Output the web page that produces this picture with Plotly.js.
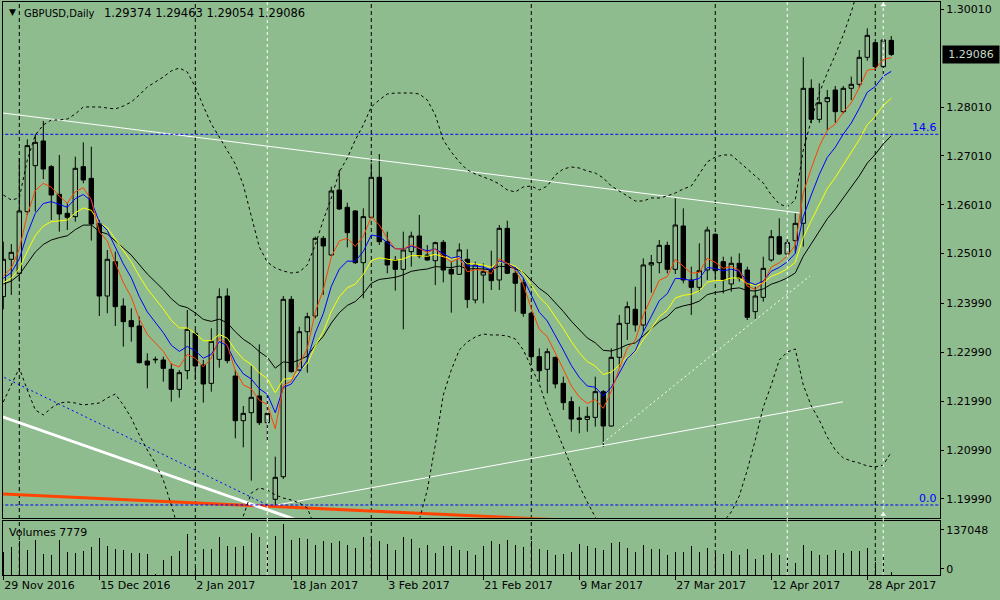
<!DOCTYPE html>
<html>
<head>
<meta charset="utf-8">
<script src="https://cdn.plot.ly/plotly-3.0.1.min.js"></script>
<style>
html,body{margin:0;padding:0;background:#8FBC8F;}
#chart{width:1000px;height:600px;}
</style>
</head>
<body>
<div id="chart"></div>
<script>
// ---------- DATA (GBPUSD Daily, 29 Nov 2016 - 3 May 2017) ----------
const symbolTitle = "GBPUSD,Daily";
const lastOHLC = "1.29374 1.29463 1.29054 1.29086";

const tickIdx = [0, 12, 24, 36, 48, 60, 72, 84, 96, 108];
const tickLabels = ["29 Nov 2016","15 Dec 2016","2 Jan 2017","18 Jan 2017","3 Feb 2017",
                    "21 Feb 2017","9 Mar 2017","27 Mar 2017","12 Apr 2017","28 Apr 2017"];

const priceTicks = [1.30010,1.28010,1.27010,1.26010,1.25010,1.23990,1.22990,1.21990,1.20990,1.19990];
const priceTickText = ["1.30010","1.28010","1.27010","1.26010","1.25010","1.23990","1.22990","1.21990","1.20990","1.19990"];

const opens = [
1.24130,1.24894,1.24607,1.25869,1.26810,1.27315,1.26790,1.26224,1.25835,1.25767,
1.26790,1.26551,1.25630,1.24143,1.24846,1.23939,1.23639,1.23530,1.22813,1.22850,
1.22834,1.22643,1.22233,1.22616,1.23380,1.22731,1.22356,1.22847,1.24143,1.22506,
1.21592,1.21756,1.22097,1.21551,1.19983,1.20446,1.24075,1.22629,1.23413,1.23734,
1.25323,1.24982,1.26312,1.25958,1.25883,1.24825,1.25753,1.26572,1.25255,1.24880,
1.24689,1.25051,1.25371,1.24982,1.24866,1.25242,1.24689,1.24587,1.24894,1.24062,
1.24573,1.24689,1.24471,1.25528,1.24607,1.24416,1.23789,1.22902,1.22643,1.22888,
1.22357,1.21981,1.21647,1.21619,1.21660,1.22186,1.21483,1.22888,1.23584,1.23871,
1.23550,1.24778,1.24826,1.25180,1.24689,1.25576,1.24471,1.24321,1.24675,1.25405,
1.24846,1.24389,1.24812,1.24675,1.23823,1.24116,1.24880,1.25357,1.25003,1.25276,
1.25630,1.28393,1.27758,1.28120,1.28359,1.27915,1.28393,1.28475,1.29027,1.29327,
1.28836,1.29374];
const highs = [
1.25255,1.25207,1.26960,1.27349,1.27452,1.27724,1.26824,1.27029,1.26040,1.26995,
1.27287,1.27199,1.25699,1.25085,1.25051,1.24096,1.23891,1.23721,1.22970,1.22902,
1.22902,1.22765,1.22629,1.23857,1.23448,1.22834,1.23482,1.24300,1.24300,1.22629,
1.21892,1.22711,1.23154,1.22152,1.20856,1.24143,1.24143,1.23516,1.23802,1.25358,
1.25371,1.26381,1.26722,1.26053,1.25903,1.25937,1.26858,1.27049,1.25460,1.24962,
1.25460,1.25460,1.25801,1.25187,1.25255,1.25289,1.24846,1.25221,1.25098,1.24846,
1.24812,1.25071,1.25596,1.25685,1.24730,1.24505,1.23823,1.23072,1.23072,1.22902,
1.22493,1.22083,1.21879,1.21879,1.22493,1.22220,1.23072,1.23755,1.24027,1.24334,
1.24914,1.24982,1.25289,1.25255,1.26142,1.25937,1.24744,1.25221,1.25562,1.25426,
1.24948,1.24948,1.25016,1.24744,1.24334,1.24948,1.25494,1.25733,1.25303,1.25835,
1.29027,1.28577,1.28495,1.28359,1.28441,1.28441,1.28632,1.29177,1.29621,1.29340,
1.29416,1.29463];
const lows = [
1.23870,1.24164,1.24437,1.25801,1.25869,1.26537,1.25699,1.25460,1.25494,1.25664,
1.26449,1.25276,1.23734,1.23789,1.23530,1.23107,1.23209,1.22765,1.22254,1.22765,
1.22390,1.21981,1.22063,1.22438,1.22424,1.21961,1.22186,1.22677,1.22765,1.21231,
1.21047,1.20365,1.21504,1.21183,1.19867,1.20400,1.22575,1.22595,1.22575,1.23686,
1.24164,1.24962,1.25903,1.25139,1.24800,1.24096,1.25733,1.25187,1.24607,1.24253,
1.23461,1.24744,1.24914,1.24866,1.24368,1.24423,1.23802,1.24573,1.23900,1.23993,
1.23993,1.24266,1.24266,1.24593,1.23823,1.23720,1.22800,1.22390,1.22152,1.22254,
1.21811,1.21367,1.21333,1.21367,1.21470,1.21060,1.21470,1.22700,1.23243,1.23414,
1.23414,1.24212,1.24607,1.24607,1.24593,1.24403,1.23755,1.24232,1.24471,1.24505,
1.24198,1.24232,1.24437,1.23652,1.23666,1.24027,1.24846,1.24982,1.24948,1.25016,
1.25153,1.27677,1.27690,1.27540,1.27690,1.27881,1.28154,1.28413,1.28959,1.28754,
1.28632,1.29054];
const closes = [
1.24894,1.25037,1.25883,1.27220,1.27288,1.26742,1.26210,1.25821,1.25753,1.26756,
1.26517,1.25617,1.24143,1.24894,1.23925,1.23618,1.23516,1.22779,1.22731,1.22840,
1.22663,1.22233,1.22575,1.23461,1.22711,1.22343,1.23216,1.24130,1.22820,1.21592,
1.21742,1.22070,1.21551,1.21742,1.20433,1.24075,1.22595,1.23413,1.23720,1.25323,
1.25167,1.26292,1.25924,1.25439,1.24825,1.25767,1.26572,1.25255,1.24778,1.24689,
1.25085,1.25371,1.24962,1.24880,1.25235,1.24675,1.24594,1.25085,1.24070,1.24778,
1.24641,1.24457,1.25528,1.24607,1.24403,1.23789,1.22902,1.22615,1.23004,1.22343,
1.21961,1.21626,1.21619,1.21681,1.22186,1.21483,1.22888,1.23584,1.23925,1.23550,
1.24778,1.24826,1.25180,1.24689,1.25596,1.24471,1.24321,1.24662,1.25494,1.24662,
1.24471,1.24812,1.24505,1.23707,1.24143,1.24709,1.25357,1.25003,1.25235,1.25630,
1.28393,1.27758,1.28099,1.28202,1.27915,1.28393,1.28475,1.29027,1.29477,1.28836,
1.29382,1.29086];

const volumes = [
62700,75240,91360,67180,94050,57320,53740,94050,61800,59120,
64490,75240,99420,77930,69860,67180,60010,59120,56430,2690,
40310,51050,64490,110170,20000,69860,69860,102110,77930,75240,
77930,112860,102110,83300,104800,137048,94050,99420,96740,80610,
91360,85990,91360,80610,72550,102110,94050,91360,83300,67180,
102110,96740,72550,80610,59120,77930,77930,67180,64490,53740,
77930,91360,83300,94050,80610,75240,91360,69860,67180,53740,
56430,61800,83300,77930,72550,67180,85990,88670,72550,61800,
80610,69860,69860,53740,61800,61800,77930,61800,72550,59120,
56430,64490,53740,69860,42990,53740,59120,53740,45680,32250,
80610,64490,53740,53740,67180,59120,64490,64490,72550,34000,
51050,7779];
const volMax = 137048;
const volTitle = "Volumes 7779";

// Bollinger-type envelope
const bandUpper = [
1.26210,1.26108,1.26149,1.26926,1.27438,1.27643,1.27745,1.27745,1.27765,1.27868,
1.28011,1.28011,1.28011,1.27990,1.27970,1.28031,1.28113,1.28256,1.28420,1.28522,
1.28625,1.28748,1.28809,1.28727,1.28420,1.28031,1.27663,1.27397,1.27131,1.26844,
1.26415,1.25801,1.25146,1.24839,1.24717,1.24655,1.24614,1.24635,1.24778,1.25187,
1.25699,1.26149,1.26681,1.26967,1.27336,1.27643,1.28011,1.28154,1.28277,1.28297,
1.28297,1.28297,1.28277,1.28154,1.27847,1.27336,1.27090,1.26886,1.26722,1.26640,
1.26579,1.26517,1.26435,1.26313,1.26272,1.26374,1.26394,1.26313,1.26394,1.26619,
1.26742,1.26783,1.26762,1.26701,1.26660,1.26558,1.26394,1.26292,1.26190,1.26087,
1.26087,1.26149,1.26149,1.26190,1.26251,1.26333,1.26394,1.26640,1.26886,1.26988,
1.27029,1.27029,1.26886,1.26762,1.26619,1.26456,1.26210,1.26026,1.25965,1.26108,
1.27131,1.27745,1.28297,1.28707,1.29075,1.29484,1.29955,1.30500,1.31200,1.31800,
1.32300,1.32700];
const bandLower = [
1.21975,1.22322,1.22670,1.22220,1.21811,1.21709,1.21852,1.21954,1.21975,1.21954,
1.21913,1.21934,1.21954,1.22056,1.22138,1.21913,1.21647,1.21299,1.20992,1.20726,
1.20378,1.19867,1.19300,1.19000,1.18800,1.18800,1.18900,1.19000,1.19200,1.19450,
1.19640,1.20113,1.20215,1.20174,1.20072,1.20010,1.19969,1.19908,1.19806,1.19400,
1.19000,1.18700,1.18500,1.18400,1.18400,1.18500,1.18600,1.18800,1.19000,1.19100,
1.19300,1.19500,1.19560,1.20174,1.21095,1.22118,1.22629,1.23039,1.23202,1.23305,
1.23366,1.23346,1.23346,1.23325,1.23264,1.23039,1.22691,1.22343,1.21852,1.21443,
1.21054,1.20624,1.20256,1.19928,1.19601,1.19300,1.19000,1.18800,1.18700,1.18650,
1.18650,1.18700,1.18750,1.18850,1.18950,1.19050,1.19150,1.19250,1.19350,1.19450,
1.19520,1.19724,1.20051,1.20583,1.21197,1.21872,1.22322,1.22834,1.22998,1.23059,
1.22322,1.21893,1.21606,1.21258,1.20992,1.20829,1.20767,1.20726,1.20665,1.20645,
1.20685,1.20951];

// EMA settings (period, colour, value at first bar)
const maPeriods = [21, 13, 8, 5];
const maColors  = ["#000000", "#FFFF00", "#0000FF", "#FF4000"];
const maSeeds   = [1.24389, 1.24416, 1.24505, 1.24553];

// Fibonacci levels
const fiboLevels = [1.27452, 1.19867];
const fiboLabels = ["14.6", "0.0"];
// Fibo anchor line (bar index, price)
const fiboLineX = [-1, 33];
const fiboLineY = [1.22565, 1.19867];

// Trend lines: [x0, y0, x1, y1] in bar index / price
const trendTop     = [-1, 1.27907, 99.6, 1.25842];
const trendThick   = [-1, 1.21723, 40, 1.19368];
const trendOrange  = [-1, 1.20100, 75, 1.19523];
const trendLowLine = [34.2, 1.19867, 104.96, 1.21977];
const trendChannel = [74.96, 1.21136, 100.84, 1.24554];

// Month separators and marker lines (bar index)
const monthStarts = [2, 24, 46, 66, 89, 109];
const whiteVLines = [33, 98, 110];
// small end marks of the last white line (bar index, price)
const markX = [110, 110];
const markY = [1.30098, 1.19673];

// ---------- BUILD ----------
const BG = "#8FBC8F";
const FONT = "DejaVu Sans";
const n = closes.length;
const idx = closes.map((_, i) => i);

function ema(vals, period, seed) {
  const a = 2 / (period + 1);
  const out = [];
  let v = seed;
  for (let i = 0; i < vals.length; i++) {
    if (i > 0) v = v + a * (vals[i] - v);
    out.push(v);
  }
  return out;
}

const traces = [];

traces.push({
  type: "candlestick", x: idx, open: opens, high: highs, low: lows, close: closes,
  xaxis: "x", yaxis: "y",
  increasing: {line: {color: "#000000", width: 1}, fillcolor: BG},
  decreasing: {line: {color: "#000000", width: 1}, fillcolor: "#000000"},
  whiskerwidth: 0, hoverinfo: "skip", showlegend: false
});

function seg(arr, color, width, dash) {
  return {type: "scatter", mode: "lines", x: [arr[0], arr[2]], y: [arr[1], arr[3]],
          xaxis: "x", yaxis: "y", line: {color: color, width: width, dash: dash || "solid"},
          hoverinfo: "skip", showlegend: false};
}
traces.push(seg(trendOrange, "#FF4500", 3));
traces.push(seg(trendThick, "#FFFFFF", 3));
traces.push(seg(trendTop, "#FFFFFF", 1));
traces.push(seg(trendLowLine, "#FFFFFF", 1));
traces.push(seg(trendChannel, "#FFFFFF", 1, "2px,3px"));
traces.push({type: "scatter", mode: "lines", x: fiboLineX, y: fiboLineY, xaxis: "x", yaxis: "y",
  line: {color: "#0000FF", width: 1, dash: "2px,3px"}, hoverinfo: "skip", showlegend: false});
fiboLevels.forEach(lv => {
  traces.push({type: "scatter", mode: "lines", x: [-1, 120], y: [lv, lv], xaxis: "x", yaxis: "y",
    line: {color: "#0000FF", width: 1, dash: "3px,2px"}, hoverinfo: "skip", showlegend: false});
});

traces.push({type: "scatter", mode: "lines", x: idx, y: bandUpper, xaxis: "x", yaxis: "y",
  line: {color: "#000000", width: 1, dash: "3px,3px"}, hoverinfo: "skip", showlegend: false});
traces.push({type: "scatter", mode: "lines", x: idx, y: bandLower, xaxis: "x", yaxis: "y",
  line: {color: "#000000", width: 1, dash: "3px,3px"}, hoverinfo: "skip", showlegend: false});

maPeriods.forEach((p, k) => {
  traces.push({type: "scatter", mode: "lines", x: idx, y: ema(closes, p, maSeeds[k]),
    xaxis: "x", yaxis: "y", line: {color: maColors[k], width: 1},
    hoverinfo: "skip", showlegend: false});
});

traces.push({type: "scatter", mode: "markers", x: markX, y: markY, xaxis: "x", yaxis: "y",
  marker: {symbol: "triangle-up", size: 5, color: "#FFFFFF", line: {width: 0}},
  cliponaxis: false, hoverinfo: "skip", showlegend: false});

traces.push({type: "bar", x: idx, y: volumes, xaxis: "x2", yaxis: "y2",
  width: 0.14, marker: {color: "#000000", line: {width: 0}},
  hoverinfo: "skip", showlegend: false});

const yMin = 1.19607, yMax = 1.30159;
const xMin = -0.0375, xMax = 117.09;
const volTop = volMax * 54.3 / 51;

const shapes = [];
monthStarts.forEach(m => shapes.push({type: "line", xref: "x", yref: "paper", x0: m, x1: m, y0: 0, y1: 1,
  line: {color: "#000000", width: 1, dash: "4px,3px"}, layer: "below"}));
whiteVLines.forEach(m => shapes.push({type: "line", xref: "x", yref: "paper", x0: m, x1: m, y0: 0, y1: 1,
  line: {color: "#FFFFFF", width: 1, dash: "3px,3px"}, layer: "above"}));

const annotations = [
  {xref: "paper", yref: "paper", x: (7 - 3) / 937, y: (575 - 12) / 573, xanchor: "left", yanchor: "middle",
   text: "▼", showarrow: false, font: {family: FONT, size: 9, color: "#000"}},
  {xref: "paper", yref: "paper", x: (21.7 - 3) / 937, y: (575 - 13) / 573, xanchor: "left", yanchor: "middle",
   text: symbolTitle, showarrow: false, font: {family: FONT, size: 10, color: "#000"}},
  {xref: "paper", yref: "paper", x: (101.7 - 3) / 937, y: (575 - 13) / 573, xanchor: "left", yanchor: "middle",
   text: lastOHLC, showarrow: false, font: {family: FONT, size: 11.5, color: "#000"}},
  {xref: "paper", yref: "paper", x: (7.3 - 3) / 937, y: (575 - 532) / 573, xanchor: "left", yanchor: "middle",
   text: volTitle, showarrow: false, font: {family: FONT, size: 11, color: "#000"}},
  {xref: "paper", yref: "y", x: (941.7 - 3) / 937, y: closes[n - 1], xanchor: "left", yanchor: "middle",
   text: closes[n - 1].toFixed(5), showarrow: false, bgcolor: "#000000", borderpad: 2, width: 52,
   font: {family: FONT, size: 11, color: "#C8D8C8"}}
];
fiboLevels.forEach((lv, k) => annotations.push({
  xref: "paper", yref: "y", x: (938.5 - 3) / 937, y: lv, xanchor: "right", yanchor: "middle", yshift: 6.6,
  text: fiboLabels[k], showarrow: false, font: {family: FONT, size: 11, color: "#0000FF"}}));

const layout = {
  width: 1000, height: 600,
  margin: {l: 3, r: 60, t: 2, b: 25, pad: 0},
  paper_bgcolor: BG, plot_bgcolor: BG,
  showlegend: false, boxgap: 0.45, boxgroupgap: 0, bargap: 0,
  font: {family: FONT, size: 11, color: "#000"},
  xaxis: {domain: [0, 1], anchor: "y", range: [xMin, xMax], showgrid: false, zeroline: false,
          showticklabels: false, ticks: "", showline: true, mirror: true, linecolor: "#000", linewidth: 1,
          rangeslider: {visible: false}, fixedrange: true},
  xaxis2: {domain: [0, 1], anchor: "y2", matches: "x", range: [xMin, xMax], showgrid: false, zeroline: false,
           tickmode: "array", tickvals: tickIdx, ticktext: tickLabels, ticks: "outside", ticklen: 4,
           tickcolor: "#000", ticklabelposition: "outside right",
           tickfont: {family: FONT, size: 11, color: "#000"},
           showline: true, mirror: true, linecolor: "#000", linewidth: 1},
  yaxis: {domain: [0.1, 1], anchor: "x", side: "right", range: [yMin, yMax], showgrid: false, zeroline: false,
          tickmode: "array", tickvals: priceTicks, ticktext: priceTickText, ticks: "outside", ticklen: 3,
          tickcolor: "#000", tickfont: {family: FONT, size: 11, color: "#000"},
          showline: true, mirror: true, linecolor: "#000", linewidth: 1},
  yaxis2: {domain: [0, 0.0948], anchor: "x2", side: "right", range: [0, volTop], showgrid: false, zeroline: false,
           tickmode: "array", tickvals: [volTop * 6.3 / 54.3, volTop * 45 / 54.3], ticktext: ["0", String(volMax)],
           ticks: "outside", ticklen: 3, tickcolor: "#000",
           tickfont: {family: FONT, size: 11, color: "#000"},
           showline: true, mirror: true, linecolor: "#000", linewidth: 1},
  shapes: shapes,
  annotations: annotations
};

Plotly.newPlot("chart", traces, layout, {staticPlot: true, displayModeBar: false});
</script>
</body>
</html>
